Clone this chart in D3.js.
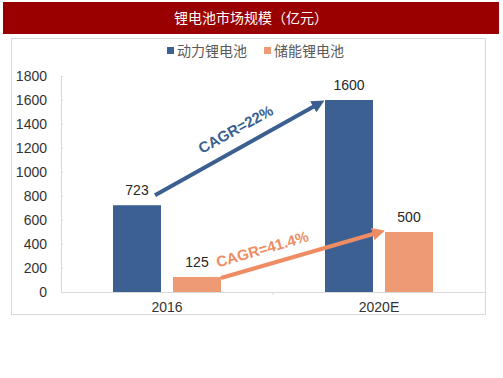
<!DOCTYPE html>
<html>
<head>
<meta charset="utf-8">
<script src="https://cdn.jsdelivr.net/npm/d3@7"></script>
<style>
  body { margin: 0; background: #fff; }
  svg text { font-family: "Liberation Sans", Arial, "Noto Sans CJK SC", sans-serif; }
  .cjk { font-family: "Noto Sans CJK SC", sans-serif; }
</style>
</head>
<body>
<div id="chart"></div>
<script>
const title = "锂电池市场规模（亿元）";
const categories = ["2016", "2020E"];
const seriesNames = ["动力锂电池", "储能锂电池"];
const power = [723, 1600];
const storage = [125, 500];
const yTicks = [0, 200, 400, 600, 800, 1000, 1200, 1400, 1600, 1800];
const growthLabels = ["CAGR=22%", "CAGR=41.4%"];

const colors = ["#3c6091", "#ee9a74"];
const arrowColors = ["#3a5f90", "#ee8d64"];

const W = 503, H = 378;
const margin = { top: 76, right: 18, bottom: 86, left: 61 };
const width = W - margin.left - margin.right;
const height = H - margin.top - margin.bottom;

const svg = d3.select("#chart").append("svg")
  .attr("width", W).attr("height", H);

// header bar
svg.append("rect").attr("x", 3).attr("y", 2).attr("width", 496).attr("height", 32)
  .attr("fill", "#990000");
svg.append("text").attr("class", "cjk")
  .attr("x", 251).attr("y", 23).attr("text-anchor", "middle")
  .attr("fill", "#fff").style("font-size", "14px").text(title);

// frame
svg.append("rect").attr("x", 11.5).attr("y", 38.5).attr("width", 474).attr("height", 276)
  .attr("fill", "none").attr("stroke", "#d9d9d9");

// legend
const legend = svg.append("g");
const legendX = [167, 264];
seriesNames.forEach((name, i) => {
  legend.append("rect").attr("x", legendX[i]).attr("y", 47).attr("width", 7).attr("height", 7)
    .attr("fill", colors[i]);
  legend.append("text").attr("class", "cjk")
    .attr("x", legendX[i] + 10).attr("y", 56)
    .attr("fill", "#595959").style("font-size", "14px").text(name);
});

const g = svg.append("g").attr("transform", `translate(${margin.left},${margin.top})`);

const x0 = d3.scaleBand().domain(categories).range([0, width]);
const x1 = d3.scaleBand().domain([0, 1]).range([52, 160]).paddingInner(0.2);
const y = d3.scaleLinear().domain([0, 1800]).range([height, 0]);

// y axis
const yAxis = g.append("g")
  .call(d3.axisLeft(y).tickValues(yTicks).tickFormat(d3.format("d")).tickSize(-2).tickPadding(14));
yAxis.select(".domain").attr("stroke", "#d9d9d9");
yAxis.selectAll(".tick line").attr("stroke", "#d9d9d9");
yAxis.selectAll(".tick text").attr("fill", "#333").style("font-size", "14px");

// x axis
const xAxis = g.append("g").attr("transform", `translate(0,${height})`)
  .call(d3.axisBottom(x0).tickSize(0).tickPadding(10));
xAxis.select(".domain").attr("stroke", "#d9d9d9");
xAxis.selectAll(".tick text").attr("fill", "#333").style("font-size", "14px");
g.append("line").attr("x1", x0.step()).attr("x2", x0.step())
  .attr("y1", height).attr("y2", height + 3).attr("stroke", "#d9d9d9");

const series = [power, storage];
const bx = (s, i) => x0(categories[i]) + x1(s);

series.forEach((vals, s) => {
  g.selectAll(`.bar${s}`).data(vals).enter().append("rect")
    .attr("x", (d, i) => bx(s, i))
    .attr("y", d => y(d))
    .attr("width", x1.bandwidth())
    .attr("height", d => height - y(d))
    .attr("fill", colors[s]);
  g.selectAll(`.lab${s}`).data(vals).enter().append("text")
    .attr("x", (d, i) => bx(s, i) + x1.bandwidth() / 2)
    .attr("y", d => y(d) - 10)
    .attr("text-anchor", "middle").attr("fill", "#262626")
    .style("font-size", "14px").text(d => d);
});

// growth arrows
const defs = svg.append("defs");
arrowColors.forEach((c, s) => {
  defs.append("marker").attr("id", `ah${s}`)
    .attr("viewBox", "0 0 10 10").attr("refX", 6).attr("refY", 5)
    .attr("markerWidth", 3.2).attr("markerHeight", 3.2).attr("orient", "auto")
    .append("path").attr("d", "M0,0 L10,5 L0,10 Z").attr("fill", c);
});

// along / normal: label offset from the arrow midpoint
const arrows = [
  { s: 0, x1: bx(0, 0) + x1.bandwidth() - 6, y1: y(power[0]) - 10, x2: bx(0, 1) - 5, y2: y(power[1]) + 3, along: 8, normal: 13 },
  { s: 1, x1: bx(1, 0) + x1.bandwidth(), y1: y(storage[0]) + 1, x2: bx(1, 1) - 5, y2: y(storage[1]), along: -35, normal: 11 }
];
arrows.forEach(a => {
  g.append("line")
    .attr("x1", a.x1).attr("y1", a.y1).attr("x2", a.x2).attr("y2", a.y2)
    .attr("stroke", arrowColors[a.s]).attr("stroke-width", 4)
    .attr("marker-end", `url(#ah${a.s})`);
  const rad = Math.atan2(a.y2 - a.y1, a.x2 - a.x1);
  const mx = (a.x1 + a.x2) / 2, my = (a.y1 + a.y2) / 2;
  const tx = mx + a.along * Math.cos(rad) + a.normal * Math.sin(rad);
  const ty = my + a.along * Math.sin(rad) - a.normal * Math.cos(rad);
  g.append("text")
    .attr("transform", `translate(${tx},${ty}) rotate(${rad * 180 / Math.PI})`)
    .attr("text-anchor", "middle")
    .attr("fill", arrowColors[a.s])
    .style("font-size", "15px").style("font-weight", "bold")
    .text(growthLabels[a.s]);
});
</script>
</body>
</html>
